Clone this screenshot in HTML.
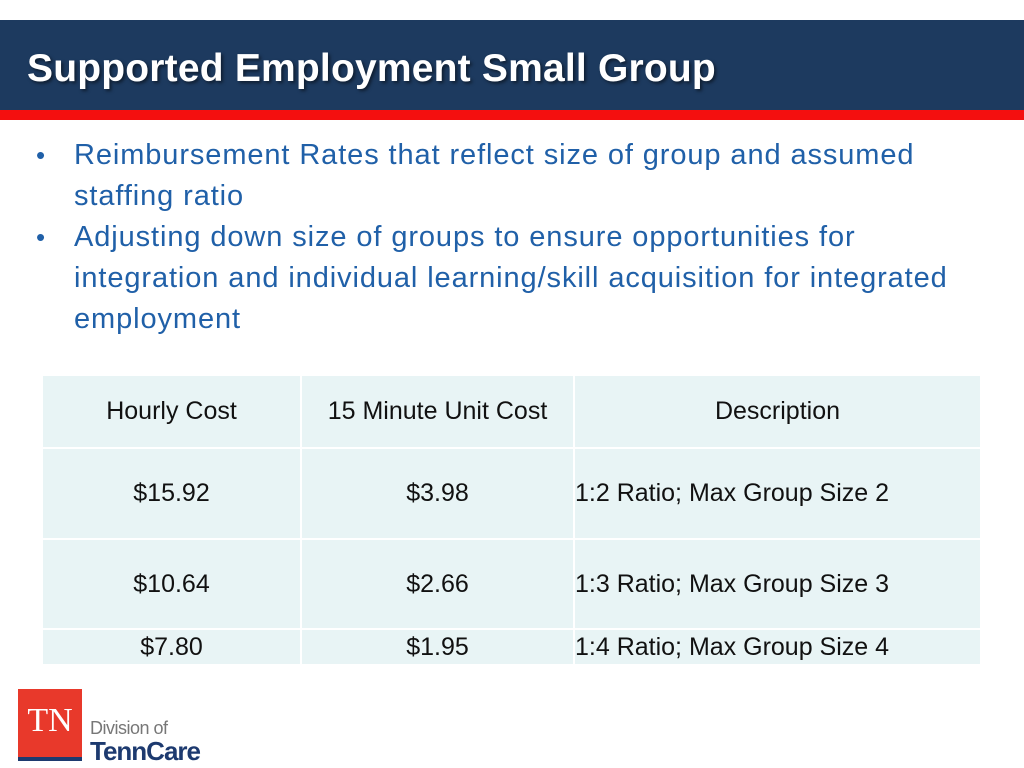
<!DOCTYPE html>
<html><head><meta charset="utf-8"><style>
body{margin:0;width:1024px;height:768px;background:#fff;position:relative;overflow:hidden;font-family:"Liberation Sans",sans-serif}
.hdr{position:absolute;left:0;top:20px;width:1024px;height:90px;background:#1d3a5f}
.red{position:absolute;left:0;top:110px;width:1024px;height:10px;background:#f40f0f}
.title{position:absolute;left:27px;top:47px;font-size:39px;font-weight:bold;color:#fff;text-shadow:2px 2px 3px rgba(0,0,0,.5);letter-spacing:0.2px;white-space:nowrap}
.bul{position:absolute;left:36px;top:135px;width:980px;color:#2060a8;font-size:29px;line-height:41px;white-space:nowrap;letter-spacing:0.9px}
.bul div{position:relative;padding-left:38px}
.bul div span.d{position:absolute;left:0;top:0;font-size:26px}
.cell{position:absolute;background:#e8f4f5;font-size:25px;color:#111;display:flex;align-items:center;justify-content:center}
.left{justify-content:flex-start}
</style></head><body>
<div class="hdr"></div>
<div class="red"></div>
<div class="title">Supported Employment Small Group</div>
<div class="bul">
<div><span class="d">•</span>Reimbursement Rates that reflect size of group and assumed<br>staffing ratio</div>
<div><span class="d">•</span>Adjusting down size of groups to ensure opportunities for<br>integration and individual learning/skill acquisition for integrated<br>employment</div>
</div>
<div>
<div class="cell" style="left:43px;top:376px;width:257px;height:71px">Hourly Cost</div>
<div class="cell" style="left:302px;top:376px;width:271px;height:71px">15 Minute Unit Cost</div>
<div class="cell" style="left:575px;top:376px;width:405px;height:71px">Description</div>
<div class="cell" style="left:43px;top:449px;width:257px;height:89px">$15.92</div>
<div class="cell" style="left:302px;top:449px;width:271px;height:89px">$3.98</div>
<div class="cell left" style="left:575px;top:449px;width:405px;height:89px">1:2 Ratio; Max Group Size 2</div>
<div class="cell" style="left:43px;top:540px;width:257px;height:88px">$10.64</div>
<div class="cell" style="left:302px;top:540px;width:271px;height:88px">$2.66</div>
<div class="cell left" style="left:575px;top:540px;width:405px;height:88px">1:3 Ratio; Max Group Size 3</div>
<div class="cell" style="left:43px;top:630px;width:257px;height:34px">$7.80</div>
<div class="cell" style="left:302px;top:630px;width:271px;height:34px">$1.95</div>
<div class="cell left" style="left:575px;top:630px;width:405px;height:34px">1:4 Ratio; Max Group Size 4</div>
</div>
<div>
<div style="position:absolute;left:18px;top:689px;width:64px;height:68px;background:#e8392b"></div>
<div style="position:absolute;left:18px;top:757px;width:64px;height:4px;background:#1d3a6f"></div>
<div style="position:absolute;left:18px;top:702px;width:64px;text-align:center;color:#fff;font-family:'Liberation Serif',serif;font-size:34px">TN</div>
<div style="position:absolute;left:90px;top:718px;color:#777;font-size:18px;letter-spacing:-0.5px">Division of</div>
<div style="position:absolute;left:90px;top:736px;color:#1d3a6f;font-size:26px;font-weight:bold;letter-spacing:-1px">TennCare</div>
</div>
</body></html>
